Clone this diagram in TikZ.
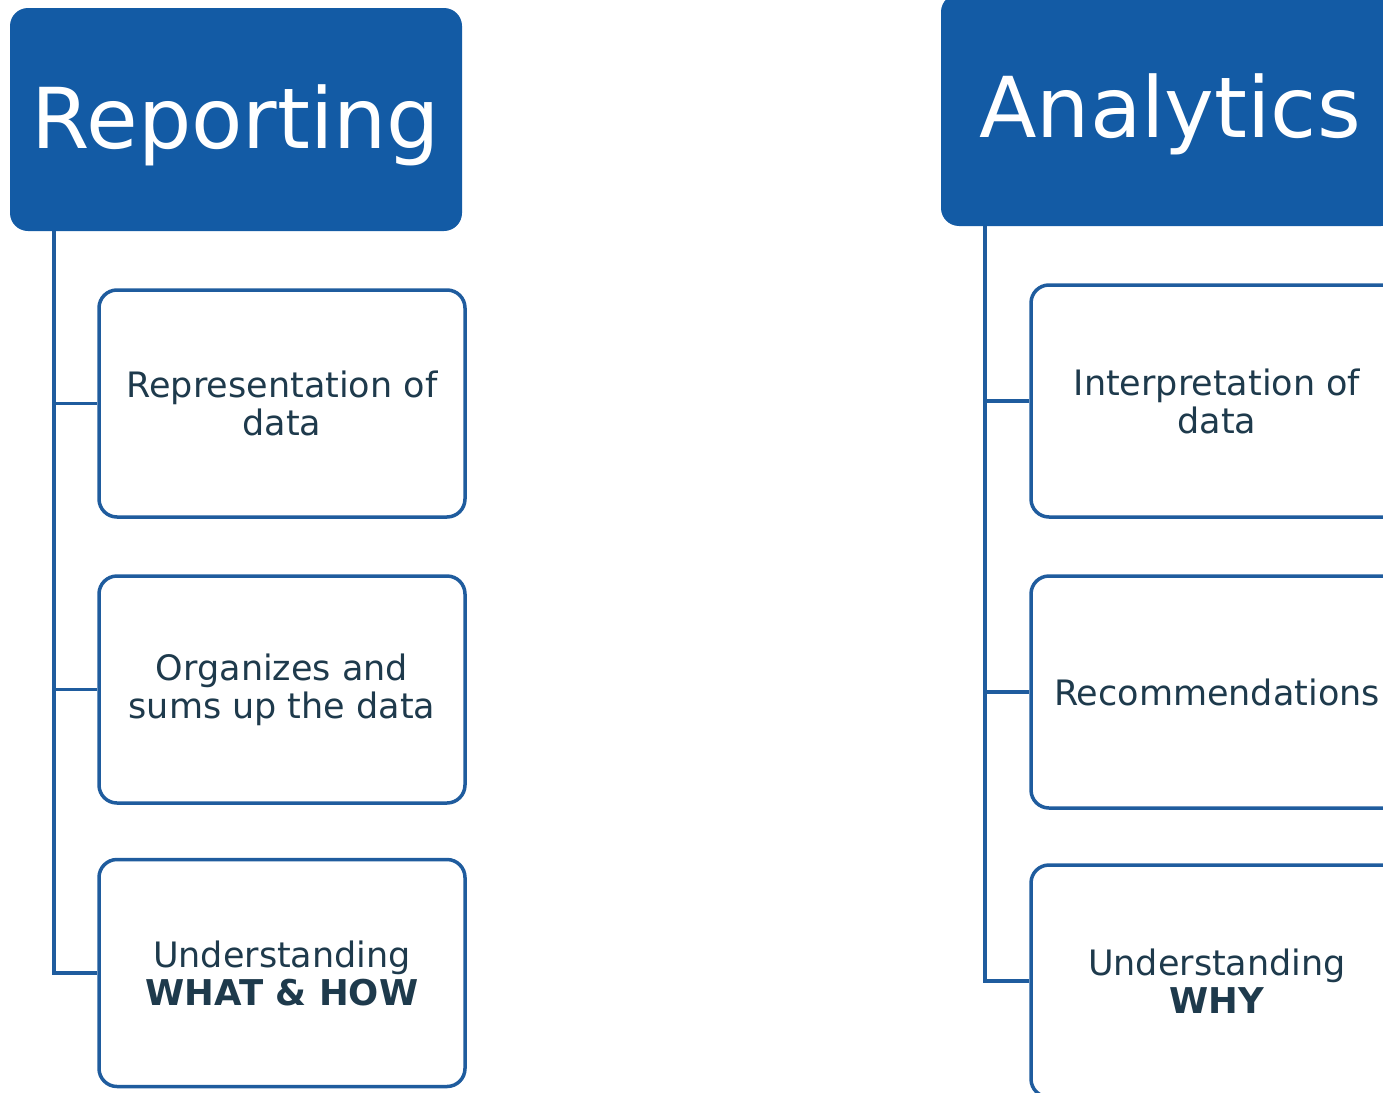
\documentclass[tikz,border=0pt]{standalone}
\usepackage{fontspec}
\setmainfont{DejaVu Sans}
\usetikzlibrary{calc}
\definecolor{hdrblue}{HTML}{135BA5}
\definecolor{lineblue}{HTML}{1F5C9E}
\definecolor{txt}{HTML}{1E3A4C}
\newcommand{\bigbold}[1]{\textbf{\fontsize{35.5}{38}\selectfont #1}}
\tikzset{
  header/.style={fill=hdrblue, draw=none, rounded corners=18pt, text=white,
    font=\fontsize{84}{90}\selectfont, inner sep=0pt},
  item/.style={draw=lineblue, line width=3.5pt, fill=white, rounded corners=18pt,
    text=txt, align=center, font=\fontsize{35}{38}\selectfont, inner sep=0pt},
  conn/.style={draw=lineblue, line width=3.5pt}
}
\begin{document}
\begin{tikzpicture}[x=1pt,y=-1pt]
\useasboundingbox (0,0) rectangle (1383,1092);
\clip (0,0) rectangle (1383,1092);
% left column
\node[header, minimum width=452pt, minimum height=223pt] (rep) at (236,119.5) {\raisebox{-28.5pt}[0pt][0pt]{Reporting}};
\node[item, minimum width=366pt, minimum height=227pt] (r1) at (282,403.5) {Representation of\\data};
\node[item, minimum width=366pt, minimum height=227pt] (r2) at (282,689.5) {Organizes and\\sums up the data};
\node[item, minimum width=366pt, minimum height=227pt] (r3) at (282,973) {Understanding\\\bigbold{WHAT \& HOW}};
\coordinate (rtop) at (54,231);
\draw[conn] (rtop) |- (r3.west);
\draw[conn] (rtop |- r1.west) -- (r1.west);
\draw[conn] (rtop |- r2.west) -- (r2.west);
% right column
\node[header, minimum width=458pt, minimum height=232pt] (ana) at (1170,110) {\raisebox{-27pt}[0pt][0pt]{Analytics}};
\node[item, minimum width=372pt, minimum height=232pt] (a1) at (1217,401) {Interpretation of\\data};
\node[item, minimum width=372pt, minimum height=232pt] (a2) at (1217,692) {Recommendations};
\node[item, minimum width=372pt, minimum height=232pt] (a3) at (1217,981) {Understanding\\\bigbold{WHY}};
\coordinate (atop) at (985,226);
\draw[conn] (atop) |- (a3.west);
\draw[conn] (atop |- a1.west) -- (a1.west);
\draw[conn] (atop |- a2.west) -- (a2.west);
\end{tikzpicture}
\end{document}
